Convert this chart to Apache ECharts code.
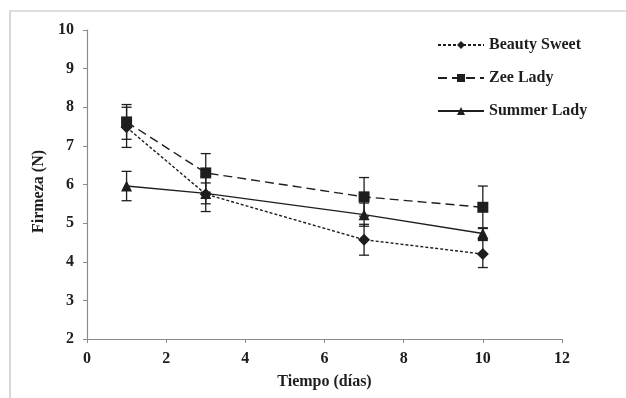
<!DOCTYPE html>
<html><head><meta charset="utf-8">
<script src="https://cdn.jsdelivr.net/npm/echarts@6/dist/echarts.min.js"></script>
<style>html,body{margin:0;padding:0;background:#fff}#c{width:626px;height:398px}</style>
</head><body><div id="c"></div>
<script>
var days = [1, 3, 7, 10];
var seriesNames = ['Beauty Sweet', 'Zee Lady', 'Summer Lady'];
var beautySweet = [7.48, 5.75, 4.57, 4.2];
var zeeLady = [7.62, 6.3, 5.68, 5.41];
var summerLady = [5.96, 5.77, 5.22, 4.73];
var beautySweetErr = [0.52, 0.45, 0.4, 0.35];
var zeeLadyErr = [0.45, 0.5, 0.5, 0.55];
var summerLadyErr = [0.38, 0.27, 0.3, 0.15];
var xTicks = [0, 2, 4, 6, 8, 10, 12];
var yTicks = [2, 3, 4, 5, 6, 7, 8, 9, 10];

var font = '"Liberation Serif","Times New Roman",serif';
var ink = '#1e1e1e';
var chart = echarts.init(document.getElementById('c'));

function pairs(vals) { return days.map(function (d, i) { return [d, vals[i]]; }); }
function errData(vals, errs) { return days.map(function (d, i) { return [d, vals[i] - errs[i], vals[i] + errs[i]]; }); }
function errSeries(vals, errs) {
  return {
    type: 'custom', silent: true, z: 1,
    data: errData(vals, errs),
    renderItem: function (params, api) {
      var lo = api.coord([api.value(0), api.value(1)]);
      var hi = api.coord([api.value(0), api.value(2)]);
      var w = 5, st = { stroke: ink, lineWidth: 1.3 };
      return { type: 'group', children: [
        { type: 'line', shape: { x1: lo[0], y1: lo[1], x2: hi[0], y2: hi[1] }, style: st },
        { type: 'line', shape: { x1: lo[0] - w, y1: lo[1], x2: lo[0] + w, y2: lo[1] }, style: st },
        { type: 'line', shape: { x1: hi[0] - w, y1: hi[1], x2: hi[0] + w, y2: hi[1] }, style: st }
      ]};
    }
  };
}
function lineSeries(name, vals, sym, size, dash) {
  return {
    name: name, type: 'line', data: pairs(vals), symbol: sym, symbolSize: size, z: 3,
    itemStyle: { color: ink, borderWidth: 0 },
    lineStyle: { color: ink, width: 1.4, type: dash },
    emphasis: { disabled: true }
  };
}

chart.setOption({
  animation: false,
  backgroundColor: '#fff',
  graphic: [{ type: 'rect', shape: { x: 10, y: 11, width: 640, height: 400 }, style: { fill: 'none', stroke: '#bdbdbd', lineWidth: 1.2 }, silent: true }],
  grid: { left: 87, right: 64, top: 30, bottom: 59 },
  legend: {
    orient: 'vertical', left: 432, top: 32, itemWidth: 46, itemHeight: 10, itemGap: 17,
    data: seriesNames,
    textStyle: { fontFamily: font, fontWeight: 'bold', fontSize: 16, color: ink }
  },
  xAxis: {
    type: 'value', min: 0, max: 12, interval: 2,
    name: 'Tiempo (días)', nameLocation: 'middle', nameGap: 35,
    nameTextStyle: { fontFamily: font, fontWeight: 'bold', fontSize: 16, color: ink },
    axisLine: { show: true, lineStyle: { color: '#8a8a8a', width: 1.2 } },
    axisTick: { show: true, inside: false, length: 4, lineStyle: { color: '#8a8a8a' } },
    axisLabel: { fontFamily: font, fontWeight: 'bold', fontSize: 16, color: ink, margin: 12,
      formatter: function (v) { return xTicks.indexOf(v) >= 0 ? String(v) : ''; } },
    splitLine: { show: false }
  },
  yAxis: {
    type: 'value', min: 2, max: 10, interval: 1,
    name: 'Firmeza (N)', nameLocation: 'middle', nameGap: 31, nameRotate: 90,
    nameTextStyle: { fontFamily: font, fontWeight: 'bold', fontSize: 16, color: ink, padding: [0, 14, 0, 0] },
    axisLine: { show: true, lineStyle: { color: '#8a8a8a', width: 1.2 } },
    axisTick: { show: true, inside: false, length: 4, lineStyle: { color: '#8a8a8a' } },
    axisLabel: { fontFamily: font, fontWeight: 'bold', fontSize: 16, color: ink, margin: 13,
      formatter: function (v) { return yTicks.indexOf(v) >= 0 ? String(v) : ''; } },
    splitLine: { show: false }
  },
  series: [
    errSeries(beautySweet, beautySweetErr),
    errSeries(zeeLady, zeeLadyErr),
    errSeries(summerLady, summerLadyErr),
    lineSeries(seriesNames[0], beautySweet, 'diamond', 12, [3, 2]),
    lineSeries(seriesNames[1], zeeLady, 'rect', 11, [9, 5]),
    lineSeries(seriesNames[2], summerLady, 'triangle', 11, 'solid')
  ]
});
</script></body></html>
